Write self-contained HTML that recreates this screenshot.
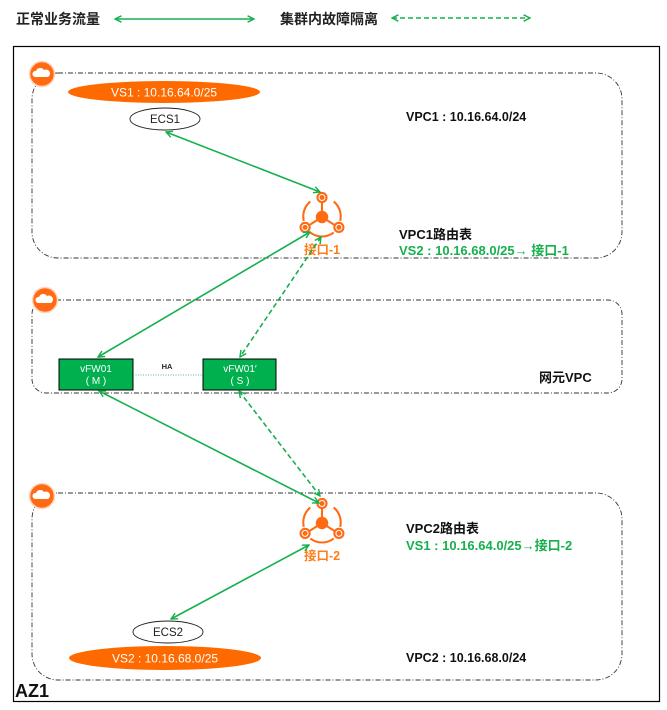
<!DOCTYPE html>
<html><head><meta charset="utf-8"><style>
html,body{margin:0;padding:0;background:#fff;}
svg{display:block;font-family:"Liberation Sans","Noto Sans CJK SC",sans-serif;}
</style></head><body>
<svg width="667" height="710" viewBox="0 0 667 710" xmlns="http://www.w3.org/2000/svg">
<defs>
<marker id="a" viewBox="0 0 10 10" refX="9" refY="5" markerWidth="8" markerHeight="8" orient="auto-start-reverse" markerUnits="userSpaceOnUse">
<path d="M1,1 L9,5 L1,9" fill="none" stroke="#16b04d" stroke-width="1.8"/></marker>
<g id="cloud"><circle r="12.5" fill="#ff6a13" stroke="#ffd6c0" stroke-width="1.5"/>
<path d="M-7,3 a3,3 0 0 1 1,-6 a4.5,4.5 0 0 1 8,-1 a3.5,3.5 0 0 1 4,7 z" fill="#fff"/></g>
<g id="rt" fill="none" stroke="#ff6a13" stroke-width="1.6" transform="scale(1.3)">
<path d="M-9,-12 A15,15 0 0 0 -14,3" /><path d="M9,-12 A15,15 0 0 1 14,3"/><path d="M-9,12 A15,15 0 0 0 9,12"/>
<line x1="0" y1="0" x2="0" y2="-13"/><line x1="0" y1="0" x2="-11" y2="7"/><line x1="0" y1="0" x2="11" y2="7"/>
<circle cx="0" cy="0" r="4" fill="#ff6a13"/>
<circle cx="0" cy="-15" r="3.5" fill="#fff"/><circle cx="-13" cy="8" r="3.5" fill="#fff"/><circle cx="13" cy="8" r="3.5" fill="#fff"/>
<circle cx="0" cy="-15" r="1.1" fill="#ff6a13"/><circle cx="-13" cy="8" r="1.1" fill="#ff6a13"/><circle cx="13" cy="8" r="1.1" fill="#ff6a13"/>
</g>
</defs>
<!-- legend -->
<text x="16" y="24" font-size="14" font-weight="bold" fill="#222">正常业务流量</text>
<line x1="115" y1="19" x2="254" y2="19" stroke="#16b04d" stroke-width="1.6" marker-start="url(#a)" marker-end="url(#a)"/>
<text x="280" y="24" font-size="14" font-weight="bold" fill="#222">集群内故障隔离</text>
<line x1="392" y1="18" x2="530" y2="18" stroke="#16b04d" stroke-width="1.6" stroke-dasharray="5,3" marker-start="url(#a)" marker-end="url(#a)"/>
<!-- outer -->
<rect x="13.5" y="46.5" width="646" height="655" fill="none" stroke="#000" stroke-width="1.2"/>
<!-- vpc boxes -->
<g fill="none" stroke="#333" stroke-width="0.9" stroke-dasharray="5,2,1,2">
<rect x="32" y="73" width="590" height="185" rx="26"/>
<rect x="32" y="300" width="590" height="93" rx="14"/>
<rect x="32" y="493" width="590" height="187" rx="26"/>
</g>
<use href="#cloud" x="42" y="74"/>
<use href="#cloud" x="45" y="300"/>
<use href="#cloud" x="42" y="496"/>
<!-- VPC1 -->
<ellipse cx="164" cy="92" rx="96" ry="11" fill="#ff6a00"/>
<text x="164" y="96.5" font-size="12" fill="#fff" text-anchor="middle">VS1 : 10.16.64.0/25</text>
<ellipse cx="165" cy="119" rx="35" ry="11" fill="#fff" stroke="#222" stroke-width="0.9"/>
<text x="165" y="123" font-size="11.5" fill="#222" text-anchor="middle">ECS1</text>
<text x="406" y="121" font-size="12.5" font-weight="bold" fill="#111">VPC1 : 10.16.64.0/24</text>
<use href="#rt" x="322" y="217"/>
<text x="322" y="254" font-size="12.5" font-weight="bold" fill="#ff7d1a" text-anchor="middle">接口-1</text>
<text x="399" y="239" font-size="13" font-weight="bold" fill="#111">VPC1路由表</text>
<text x="399" y="255" font-size="13" font-weight="bold" fill="#16b04d">VS2 : 10.16.68.0/25→ 接口-1</text>
<!-- net VPC -->
<rect x="59" y="359" width="74" height="31" fill="#00b04f" stroke="#000" stroke-width="1"/>
<text x="96" y="372" font-size="10" fill="#fff" text-anchor="middle">vFW01</text>
<text x="96" y="384" font-size="10" fill="#fff" text-anchor="middle">( M )</text>
<rect x="203" y="359" width="73" height="31" fill="#00b04f" stroke="#000" stroke-width="1"/>
<text x="240" y="372" font-size="10" fill="#fff" text-anchor="middle">vFW01′</text>
<text x="240" y="384" font-size="10" fill="#fff" text-anchor="middle">( S )</text>
<line x1="133" y1="375" x2="203" y2="375" stroke="#16b04d" stroke-width="0.8" stroke-dasharray="1,1.5"/>
<text x="167" y="369" font-size="7.5" font-weight="bold" fill="#222" text-anchor="middle">HA</text>
<text x="539" y="382" font-size="13" font-weight="bold" fill="#111">网元VPC</text>
<!-- VPC2 -->
<use href="#rt" x="322" y="523"/>
<text x="322" y="560" font-size="12.5" font-weight="bold" fill="#ff7d1a" text-anchor="middle">接口-2</text>
<text x="406" y="533" font-size="13" font-weight="bold" fill="#111">VPC2路由表</text>
<text x="406" y="550" font-size="13" font-weight="bold" fill="#16b04d">VS1 : 10.16.64.0/25→接口-2</text>
<ellipse cx="168" cy="632" rx="35" ry="11" fill="#fff" stroke="#222" stroke-width="0.9"/>
<text x="168" y="636" font-size="11.5" fill="#222" text-anchor="middle">ECS2</text>
<ellipse cx="165" cy="658" rx="96" ry="12" fill="#ff6a00"/>
<text x="165" y="662.5" font-size="12" fill="#fff" text-anchor="middle">VS2 : 10.16.68.0/25</text>
<text x="406" y="662" font-size="12.5" font-weight="bold" fill="#111">VPC2 : 10.16.68.0/24</text>
<text x="15" y="697" font-size="18" font-weight="bold" fill="#111">AZ1</text>
<!-- arrows -->
<g stroke="#16b04d" stroke-width="1.6" fill="none">
<line x1="166" y1="132" x2="320" y2="192" marker-start="url(#a)" marker-end="url(#a)"/>
<line x1="310" y1="232" x2="98" y2="357" marker-start="url(#a)" marker-end="url(#a)"/>
<line x1="321" y1="237" x2="240" y2="357" stroke-dasharray="5,3" marker-start="url(#a)" marker-end="url(#a)"/>
<line x1="99" y1="391" x2="319" y2="503" marker-start="url(#a)" marker-end="url(#a)"/>
<line x1="239" y1="391" x2="320" y2="496" stroke-dasharray="5,3" marker-start="url(#a)" marker-end="url(#a)"/>
<line x1="309" y1="545" x2="171" y2="619" marker-start="url(#a)" marker-end="url(#a)"/>
</g>
</svg>
</body></html>
